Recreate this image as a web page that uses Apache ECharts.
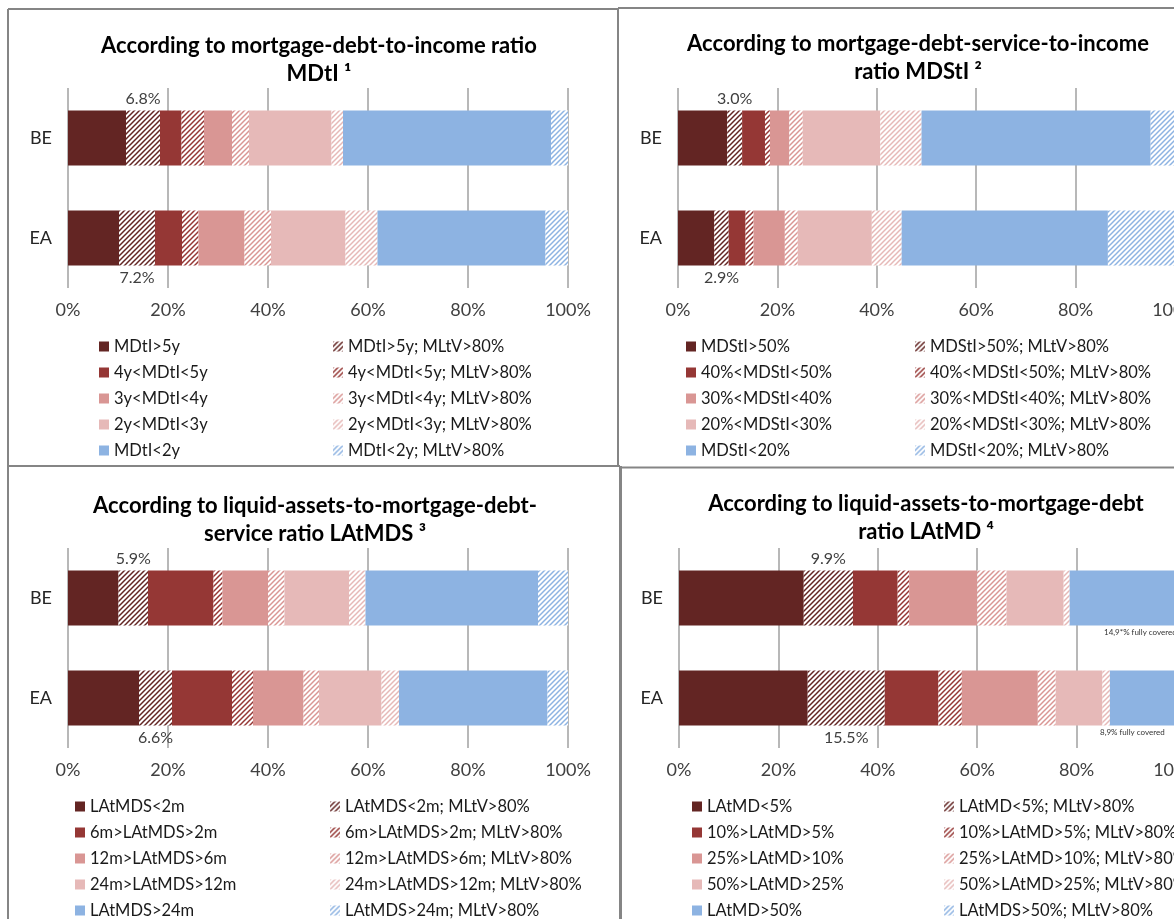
<!DOCTYPE html>
<html>
<head>
<meta charset="utf-8">
<script src="https://cdn.jsdelivr.net/npm/echarts@6/dist/echarts.min.js"></script>
<style>
html,body{margin:0;padding:0;background:#fff;}
#chart{width:1174px;height:919px;}
</style>
</head>
<body>
<div id="chart"></div>
<script>
// ---------- data ----------
const categories = ['BE', 'EA'];
const xTickValues = [0, 20, 40, 60, 80, 100];

const titleMDtI = ['According to mortgage-debt-to-income ratio', 'MDtI ¹'];
const namesMDtI = ['MDtI>5y', 'MDtI>5y; MLtV>80%', '4y<MDtI<5y', '4y<MDtI<5y; MLtV>80%', '3y<MDtI<4y', '3y<MDtI<4y; MLtV>80%', '2y<MDtI<3y', '2y<MDtI<3y; MLtV>80%', 'MDtI<2y', 'MDtI<2y; MLtV>80%'];
const beMDtI = [11.6, 6.8, 4.3, 4.5, 5.6, 3.4, 16.5, 2.3, 41.6, 3.4];
const eaMDtI = [10.2, 7.2, 5.4, 3.3, 9.2, 5.3, 14.9, 6.4, 33.6, 4.5];

const titleMDStI = ['According to mortgage-debt-service-to-income', 'ratio MDStI ²'];
const namesMDStI = ['MDStI>50%', 'MDStI>50%; MLtV>80%', '40%<MDStI<50%', '40%<MDStI<50%; MLtV>80%', '30%<MDStI<40%', '30%<MDStI<40%; MLtV>80%', '20%<MDStI<30%', '20%<MDStI<30%; MLtV>80%', 'MDStI<20%', 'MDStI<20%; MLtV>80%'];
const beMDStI = [9.9, 3.0, 4.6, 1.0, 3.9, 2.7, 15.6, 8.3, 46.1, 4.9];
const eaMDStI = [7.3, 2.9, 3.4, 1.6, 6.3, 2.6, 14.9, 6.0, 41.5, 13.5];

const titleLAtMDS = ['According to liquid-assets-to-mortgage-debt-', 'service ratio LAtMDS ³'];
const namesLAtMDS = ['LAtMDS<2m', 'LAtMDS<2m; MLtV>80%', '6m>LAtMDS>2m', '6m>LAtMDS>2m; MLtV>80%', '12m>LAtMDS>6m', '12m>LAtMDS>6m; MLtV>80%', '24m>LAtMDS>12m', '24m>LAtMDS>12m; MLtV>80%', 'LAtMDS>24m', 'LAtMDS>24m; MLtV>80%'];
const beLAtMDS = [10.1, 5.9, 13.1, 1.8, 9.1, 3.3, 12.9, 3.3, 34.5, 6.0];
const eaLAtMDS = [14.2, 6.6, 12.0, 4.2, 10.1, 3.1, 12.5, 3.5, 29.7, 4.1];

const titleLAtMD = ['According to liquid-assets-to-mortgage-debt', 'ratio LAtMD ⁴'];
const namesLAtMD = ['LAtMD<5%', 'LAtMD<5%; MLtV>80%', '10%>LAtMD>5%', '10%>LAtMD>5%; MLtV>80%', '25%>LAtMD>10%', '25%>LAtMD>10%; MLtV>80%', '50%>LAtMD>25%', '50%>LAtMD>25%; MLtV>80%', 'LAtMD>50%', 'LAtMDS>50%; MLtV>80%'];
const beLAtMD = [25.1, 9.9, 9.0, 2.3, 13.7, 5.9, 11.5, 1.2, 21.0, 0.4];
const eaLAtMD = [25.9, 15.5, 10.8, 4.7, 15.3, 3.6, 9.4, 1.5, 12.9, 0.4];
const notesLAtMD = ['14,9*% fully covered', '8,9% fully covered'];

// ---------- styling ----------
const FONT = 'Lato, "Open Sans", sans-serif';
const baseColors = ['#632523', '#953735', '#d99694', '#e6b9b8', '#8db3e2'];

function hatch(color) {
  const s = 5;
  const c = document.createElement('canvas');
  c.width = s; c.height = s;
  const g = c.getContext('2d');
  g.fillStyle = '#ffffff';
  g.fillRect(0, 0, s, s);
  g.strokeStyle = color;
  g.lineWidth = 1.5;
  g.beginPath();
  g.moveTo(0, s); g.lineTo(s, 0);
  g.moveTo(-1, 1); g.lineTo(1, -1);
  g.moveTo(s - 1, s + 1); g.lineTo(s + 1, s - 1);
  g.stroke();
  return { image: c, repeat: 'repeat' };
}

const panels = [
  { title: titleMDtI, names: namesMDtI, be: beMDtI, ea: eaMDtI,
    grid: { left: 68, width: 500, top: 88, height: 200 }, titleX: 319, titleY: 32,
    legSolid: { left: 99, top: 338 }, legHatch: { left: 333, top: 338 } },
  { title: titleMDStI, names: namesMDStI, be: beMDStI, ea: eaMDStI,
    grid: { left: 678, width: 497, top: 88, height: 200 }, titleX: 918, titleY: 30,
    legSolid: { left: 686, top: 338 }, legHatch: { left: 915, top: 338 } },
  { title: titleLAtMDS, names: namesLAtMDS, be: beLAtMDS, ea: eaLAtMDS,
    grid: { left: 68, width: 500, top: 548, height: 200 }, titleX: 315, titleY: 492,
    legSolid: { left: 75, top: 798 }, legHatch: { left: 330, top: 798 } },
  { title: titleLAtMD, names: namesLAtMD, be: beLAtMD, ea: eaLAtMD,
    grid: { left: 679, width: 497, top: 548, height: 200 }, titleX: 926, titleY: 490,
    legSolid: { left: 692, top: 798 }, legHatch: { left: 944, top: 798 } }
];

const option = {
  animation: false,
  backgroundColor: '#ffffff',
  textStyle: { fontFamily: FONT },
  title: [], grid: [], xAxis: [], yAxis: [], legend: [], series: [], graphic: []
};

panels.forEach((p, pi) => {
  option.title.push({
    text: p.title.join('\n'), left: p.titleX, top: p.titleY, textAlign: 'center', padding: 0,
    textStyle: { fontFamily: FONT, fontSize: 22, fontWeight: 'bold', color: '#000', lineHeight: 28 }
  });
  option.grid.push(Object.assign({ containLabel: false, outerBoundsMode: 'none' }, p.grid));
  option.xAxis.push({
    type: 'value', gridIndex: pi, min: xTickValues[0], max: xTickValues[xTickValues.length - 1], interval: 20,
    axisLine: { show: false }, axisTick: { show: false },
    splitLine: { show: true, lineStyle: { color: '#a0a0a0', width: 1.5 } },
    axisLabel: { formatter: '{value}%', fontSize: 18, color: '#404040', margin: 13, fontFamily: FONT }
  });
  option.yAxis.push({
    type: 'category', gridIndex: pi, data: categories, inverse: true,
    axisLine: { show: false }, axisTick: { show: false },
    axisLabel: { fontSize: 18, color: '#262626', margin: 16, fontFamily: FONT }
  });
  p.names.forEach((n, i) => {
    const hatched = i % 2 === 1;
    const col = baseColors[Math.floor(i / 2)];
    const mk = (v, pos) => (i === 1) ? { value: v, label: { show: true, position: pos } } : v;
    option.series.push({
      type: 'bar', name: n, xAxisIndex: pi, yAxisIndex: pi, stack: 'stack' + pi, barWidth: 55,
      itemStyle: { color: hatched ? hatch(col) : col },
      label: { show: false, formatter: (q) => q.value.toFixed(1) + '%', fontSize: 16, color: '#404040', distance: 4, fontFamily: FONT },
      emphasis: { disabled: true },
      data: [mk(p.be[i], 'top'), mk(p.ea[i], 'bottom')]
    });
  });
  const legBase = {
    orient: 'vertical', selectedMode: false, itemWidth: 10, itemHeight: 10, itemGap: 9, padding: 0,
    height: 160, icon: 'rect',
    textStyle: { fontSize: 16.5, color: '#1a1a1a', lineHeight: 16, fontFamily: FONT }
  };
  option.legend.push(Object.assign({}, legBase, p.legSolid, { data: p.names.filter((_, i) => i % 2 === 0) }));
  option.legend.push(Object.assign({}, legBase, p.legHatch, { data: p.names.filter((_, i) => i % 2 === 1) }));
});

// panel borders
const BC = '#858585';
const lines = [
  [8, 9, 618, 9, 2], [618, 8, 1174, 8, 2],
  [8, 9, 8, 919, 2],
  [618, 8, 618, 466, 2],
  [8, 466, 620, 466, 2], [620, 467.5, 1174, 467.5, 2],
  [620.5, 466, 620.5, 919, 3]
];
lines.forEach(l => option.graphic.push({
  type: 'line', silent: true, z: 100,
  shape: { x1: l[0], y1: l[1], x2: l[2], y2: l[3] },
  style: { stroke: BC, lineWidth: l[4] }
}));
// small notes under the bottom-right bars
option.graphic.push({ type: 'text', silent: true, left: 1104, top: 628,
  style: { text: notesLAtMD[0], fontSize: 8, fill: '#333', fontFamily: FONT } });
option.graphic.push({ type: 'text', silent: true, left: 1100, top: 728,
  style: { text: notesLAtMD[1], fontSize: 8, fill: '#333', fontFamily: FONT } });

const chart = echarts.init(document.getElementById('chart'), null, { renderer: 'canvas' });
chart.setOption(option);
</script>
</body>
</html>
